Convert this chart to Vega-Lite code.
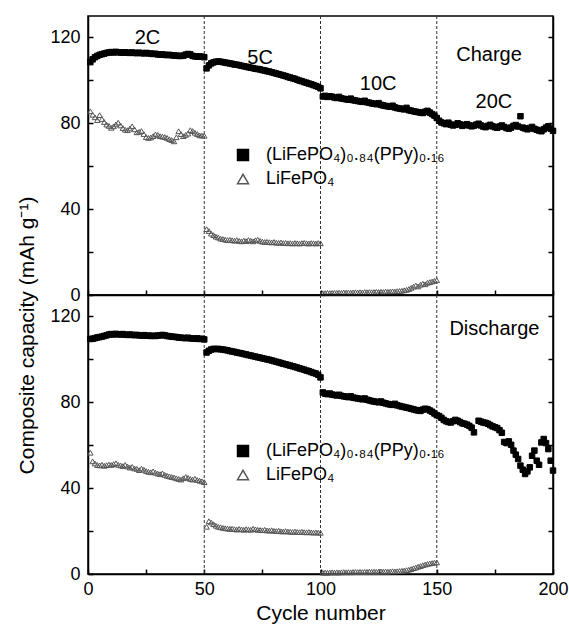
{
"$schema":"https://vega.github.io/schema/vega-lite/v6.json",
"padding":{"left":16,"top":14,"right":0,"bottom":0},
"bounds":"flush",
"spacing":0,
"config":{
 "font":"Liberation Sans",
 "view":{"stroke":"black","strokeWidth":1.5},
 "axis":{"grid":false,"labelFlush":false,"labelOverlap":false,"domainColor":"black","domainWidth":1.5,"tickColor":"black","tickWidth":1.5,"tickSize":-5,"labelColor":"black","labelFontSize":18,"labelFont":"Liberation Sans","titleColor":"black","titleFont":"Liberation Sans","titleFontSize":21,"titleFontWeight":"normal"},
 "legend":{"labelFont":"Liberation Sans","labelFontSize":18,"labelColor":"black","labelLimit":400,"symbolSize":120,"symbolStrokeWidth":1.5,"rowPadding":6,"labelOffset":14,"padding":0}
},
"datasets":{
"rates":[{"c":50},{"c":100},{"c":150}],
"topnotes":[{"label":"2C","c":25.6,"v":116.9},{"label":"5C","c":74,"v":107.6},{"label":"10C","c":124.8,"v":95.5},{"label":"20C","c":174.6,"v":87.1},{"label":"Charge","c":172.5,"v":109.2}],
"botnotes":[{"label":"Discharge","c":174.8,"v":111.5}],
"cap":[
{"c":1,"ca":108.5,"cl":85.6,"da":109.5,"dl":56.5},
{"c":2,"ca":109.8,"cl":84.0,"da":109.6,"dl":52.5},
{"c":3,"ca":110.8,"cl":82.8,"da":109.9,"dl":51.5},
{"c":4,"ca":111.4,"cl":81.5,"da":110.2,"dl":50.8},
{"c":5,"ca":111.9,"cl":83.8,"da":110.4,"dl":50.6},
{"c":6,"ca":112.2,"cl":82.0,"da":110.6,"dl":50.9},
{"c":7,"ca":112.5,"cl":80.6,"da":110.9,"dl":50.4},
{"c":8,"ca":112.8,"cl":79.4,"da":111.2,"dl":50.7},
{"c":9,"ca":113.0,"cl":78.8,"da":111.6,"dl":51.0},
{"c":10,"ca":113.2,"cl":77.9,"da":111.8,"dl":50.8},
{"c":11,"ca":113.0,"cl":78.6,"da":111.6,"dl":51.2},
{"c":12,"ca":113.3,"cl":79.5,"da":111.9,"dl":51.6},
{"c":13,"ca":113.1,"cl":80.3,"da":111.7,"dl":50.9},
{"c":14,"ca":113.0,"cl":79.0,"da":111.6,"dl":50.6},
{"c":15,"ca":112.9,"cl":77.8,"da":111.8,"dl":50.3},
{"c":16,"ca":113.1,"cl":77.0,"da":111.5,"dl":50.8},
{"c":17,"ca":112.9,"cl":76.8,"da":111.4,"dl":50.1},
{"c":18,"ca":112.8,"cl":77.6,"da":111.6,"dl":49.6},
{"c":19,"ca":113.0,"cl":78.6,"da":111.4,"dl":49.9},
{"c":20,"ca":112.8,"cl":77.2,"da":111.3,"dl":49.2},
{"c":21,"ca":112.7,"cl":75.8,"da":111.4,"dl":49.0},
{"c":22,"ca":112.9,"cl":76.0,"da":111.2,"dl":48.4},
{"c":23,"ca":112.7,"cl":76.4,"da":111.1,"dl":49.1},
{"c":24,"ca":112.6,"cl":75.0,"da":111.3,"dl":48.6},
{"c":25,"ca":112.8,"cl":73.6,"da":111.0,"dl":48.0},
{"c":26,"ca":112.6,"cl":73.2,"da":111.1,"dl":47.6},
{"c":27,"ca":112.5,"cl":73.4,"da":110.9,"dl":47.4},
{"c":28,"ca":112.3,"cl":74.0,"da":111.0,"dl":47.8},
{"c":29,"ca":112.4,"cl":74.8,"da":110.9,"dl":47.2},
{"c":30,"ca":112.1,"cl":74.6,"da":111.1,"dl":46.8},
{"c":31,"ca":112.0,"cl":74.0,"da":111.2,"dl":46.5},
{"c":32,"ca":112.1,"cl":73.8,"da":111.4,"dl":46.9},
{"c":33,"ca":111.9,"cl":73.6,"da":111.2,"dl":46.2},
{"c":34,"ca":111.8,"cl":73.2,"da":110.9,"dl":45.8},
{"c":35,"ca":111.9,"cl":72.6,"da":110.8,"dl":45.5},
{"c":36,"ca":111.7,"cl":72.2,"da":110.6,"dl":45.2},
{"c":37,"ca":111.6,"cl":71.6,"da":110.5,"dl":45.0},
{"c":38,"ca":111.5,"cl":73.5,"da":110.4,"dl":44.6},
{"c":39,"ca":111.4,"cl":76.3,"da":110.2,"dl":44.3},
{"c":40,"ca":111.4,"cl":75.0,"da":110.1,"dl":44.0},
{"c":41,"ca":111.5,"cl":74.0,"da":110.0,"dl":44.6},
{"c":42,"ca":112.0,"cl":74.6,"da":109.9,"dl":45.2},
{"c":43,"ca":112.3,"cl":75.2,"da":110.1,"dl":44.8},
{"c":44,"ca":112.1,"cl":76.8,"da":109.8,"dl":44.3},
{"c":45,"ca":111.4,"cl":76.4,"da":109.7,"dl":44.0},
{"c":46,"ca":111.2,"cl":75.6,"da":109.6,"dl":44.4},
{"c":47,"ca":111.0,"cl":75.0,"da":109.8,"dl":43.8},
{"c":48,"ca":111.2,"cl":74.4,"da":109.5,"dl":43.5},
{"c":49,"ca":111.0,"cl":74.3,"da":109.6,"dl":43.2},
{"c":50,"ca":110.8,"cl":74.2,"da":109.3,"dl":42.8},
{"c":51,"ca":105.6,"cl":30.7,"da":103.2,"dl":22.0},
{"c":52,"ca":107.0,"cl":29.8,"da":104.0,"dl":24.6},
{"c":53,"ca":107.9,"cl":28.6,"da":104.6,"dl":24.0},
{"c":54,"ca":108.4,"cl":27.9,"da":104.9,"dl":23.2},
{"c":55,"ca":108.7,"cl":27.2,"da":104.8,"dl":22.5},
{"c":56,"ca":108.8,"cl":26.8,"da":104.9,"dl":22.0},
{"c":57,"ca":108.7,"cl":26.3,"da":104.7,"dl":21.8},
{"c":58,"ca":108.5,"cl":26.1,"da":104.6,"dl":21.5},
{"c":59,"ca":108.3,"cl":25.8,"da":104.4,"dl":21.3},
{"c":60,"ca":108.1,"cl":25.6,"da":104.2,"dl":21.2},
{"c":61,"ca":107.9,"cl":25.7,"da":103.9,"dl":21.0},
{"c":62,"ca":107.7,"cl":25.5,"da":103.7,"dl":21.1},
{"c":63,"ca":107.4,"cl":25.3,"da":103.5,"dl":20.9},
{"c":64,"ca":107.3,"cl":25.6,"da":103.2,"dl":20.7},
{"c":65,"ca":107.1,"cl":25.2,"da":103.0,"dl":21.0},
{"c":66,"ca":106.8,"cl":25.0,"da":102.8,"dl":20.8},
{"c":67,"ca":106.6,"cl":25.4,"da":102.5,"dl":20.6},
{"c":68,"ca":106.4,"cl":25.1,"da":102.3,"dl":20.9},
{"c":69,"ca":106.1,"cl":25.6,"da":102.0,"dl":20.7},
{"c":70,"ca":105.9,"cl":25.3,"da":101.8,"dl":20.6},
{"c":71,"ca":105.7,"cl":25.0,"da":101.5,"dl":21.1},
{"c":72,"ca":105.4,"cl":25.5,"da":101.3,"dl":20.8},
{"c":73,"ca":105.3,"cl":25.8,"da":101.0,"dl":20.6},
{"c":74,"ca":105.1,"cl":25.2,"da":100.8,"dl":20.5},
{"c":75,"ca":104.8,"cl":24.9,"da":100.5,"dl":20.4},
{"c":76,"ca":104.6,"cl":24.7,"da":100.3,"dl":20.6},
{"c":77,"ca":104.3,"cl":24.8,"da":100.0,"dl":20.3},
{"c":78,"ca":104.1,"cl":24.6,"da":99.8,"dl":20.2},
{"c":79,"ca":103.8,"cl":24.5,"da":99.5,"dl":20.4},
{"c":80,"ca":103.5,"cl":24.7,"da":99.2,"dl":20.1},
{"c":81,"ca":103.2,"cl":24.4,"da":98.9,"dl":20.0},
{"c":82,"ca":102.9,"cl":24.3,"da":98.6,"dl":20.2},
{"c":83,"ca":102.6,"cl":24.5,"da":98.3,"dl":19.9},
{"c":84,"ca":102.3,"cl":24.2,"da":98.0,"dl":19.8},
{"c":85,"ca":102.0,"cl":24.3,"da":97.7,"dl":20.0},
{"c":86,"ca":101.6,"cl":24.1,"da":97.4,"dl":19.8},
{"c":87,"ca":101.3,"cl":24.2,"da":97.1,"dl":19.7},
{"c":88,"ca":101.0,"cl":24.0,"da":96.8,"dl":19.6},
{"c":89,"ca":100.7,"cl":24.2,"da":96.5,"dl":19.8},
{"c":90,"ca":100.3,"cl":24.1,"da":96.2,"dl":19.6},
{"c":91,"ca":99.9,"cl":24.0,"da":95.8,"dl":19.5},
{"c":92,"ca":99.6,"cl":24.2,"da":95.5,"dl":19.7},
{"c":93,"ca":99.2,"cl":24.3,"da":95.2,"dl":19.5},
{"c":94,"ca":98.9,"cl":24.1,"da":94.8,"dl":19.4},
{"c":95,"ca":98.5,"cl":24.0,"da":94.5,"dl":19.6},
{"c":96,"ca":98.2,"cl":24.2,"da":94.1,"dl":19.4},
{"c":97,"ca":97.8,"cl":24.1,"da":93.7,"dl":19.3},
{"c":98,"ca":97.4,"cl":24.0,"da":93.4,"dl":19.4},
{"c":99,"ca":97.0,"cl":24.2,"da":92.8,"dl":19.3},
{"c":100,"ca":96.3,"cl":24.1,"da":91.6,"dl":19.2},
{"c":101,"ca":92.5,"cl":0.8,"da":84.6,"dl":0.6},
{"c":102,"ca":92.8,"cl":0.9,"da":84.0,"dl":0.7},
{"c":103,"ca":92.3,"cl":1.0,"da":83.8,"dl":0.6},
{"c":104,"ca":92.6,"cl":0.9,"da":84.1,"dl":0.7},
{"c":105,"ca":92.4,"cl":1.0,"da":83.6,"dl":0.8},
{"c":106,"ca":92.0,"cl":1.1,"da":83.4,"dl":0.7},
{"c":107,"ca":91.8,"cl":1.0,"da":83.2,"dl":0.8},
{"c":108,"ca":92.3,"cl":1.1,"da":83.5,"dl":0.7},
{"c":109,"ca":91.6,"cl":1.0,"da":83.0,"dl":0.8},
{"c":110,"ca":91.4,"cl":1.2,"da":82.8,"dl":0.9},
{"c":111,"ca":91.2,"cl":1.1,"da":82.6,"dl":0.8},
{"c":112,"ca":91.0,"cl":1.2,"da":82.4,"dl":0.9},
{"c":113,"ca":91.5,"cl":1.1,"da":82.8,"dl":0.8},
{"c":114,"ca":90.8,"cl":1.2,"da":82.2,"dl":0.9},
{"c":115,"ca":90.6,"cl":1.3,"da":82.0,"dl":1.0},
{"c":116,"ca":90.4,"cl":1.2,"da":81.8,"dl":0.9},
{"c":117,"ca":90.2,"cl":1.3,"da":81.6,"dl":1.0},
{"c":118,"ca":90.0,"cl":1.2,"da":81.4,"dl":0.9},
{"c":119,"ca":90.5,"cl":1.4,"da":81.8,"dl":1.0},
{"c":120,"ca":89.8,"cl":1.3,"da":81.2,"dl":1.0},
{"c":121,"ca":89.6,"cl":1.4,"da":80.9,"dl":1.1},
{"c":122,"ca":89.3,"cl":1.3,"da":80.6,"dl":1.0},
{"c":123,"ca":89.1,"cl":1.4,"da":80.4,"dl":1.1},
{"c":124,"ca":88.9,"cl":1.5,"da":80.2,"dl":1.0},
{"c":125,"ca":89.4,"cl":1.4,"da":80.0,"dl":1.1},
{"c":126,"ca":88.6,"cl":1.5,"da":80.4,"dl":1.2},
{"c":127,"ca":88.3,"cl":1.4,"da":79.8,"dl":1.1},
{"c":128,"ca":88.1,"cl":1.6,"da":79.5,"dl":1.2},
{"c":129,"ca":87.9,"cl":1.5,"da":79.2,"dl":1.1},
{"c":130,"ca":87.7,"cl":1.6,"da":79.0,"dl":1.2},
{"c":131,"ca":88.2,"cl":1.7,"da":78.8,"dl":1.3},
{"c":132,"ca":87.4,"cl":1.6,"da":79.3,"dl":1.2},
{"c":133,"ca":87.1,"cl":1.8,"da":78.6,"dl":1.3},
{"c":134,"ca":86.9,"cl":1.9,"da":78.3,"dl":1.4},
{"c":135,"ca":86.7,"cl":2.0,"da":78.0,"dl":1.5},
{"c":136,"ca":86.5,"cl":2.2,"da":77.8,"dl":1.6},
{"c":137,"ca":87.2,"cl":2.4,"da":77.5,"dl":1.8},
{"c":138,"ca":86.1,"cl":2.8,"da":77.3,"dl":2.0},
{"c":139,"ca":85.9,"cl":3.3,"da":77.0,"dl":2.3},
{"c":140,"ca":85.6,"cl":3.9,"da":76.7,"dl":2.7},
{"c":141,"ca":85.4,"cl":4.4,"da":76.4,"dl":3.0},
{"c":142,"ca":85.2,"cl":4.0,"da":76.2,"dl":3.4},
{"c":143,"ca":85.0,"cl":4.8,"da":76.0,"dl":3.7},
{"c":144,"ca":84.8,"cl":5.3,"da":76.6,"dl":4.1},
{"c":145,"ca":85.4,"cl":5.0,"da":77.0,"dl":4.4},
{"c":146,"ca":85.8,"cl":5.7,"da":76.8,"dl":4.7},
{"c":147,"ca":85.0,"cl":6.0,"da":76.2,"dl":4.9},
{"c":148,"ca":84.3,"cl":6.3,"da":75.6,"dl":5.1},
{"c":149,"ca":83.6,"cl":6.6,"da":74.8,"dl":5.3},
{"c":150,"ca":82.5,"cl":6.9,"da":74.0,"dl":5.4},
{"c":151,"ca":81.2,"da":73.6},
{"c":152,"ca":80.4,"da":72.8},
{"c":153,"ca":80.0,"da":71.8},
{"c":154,"ca":79.6,"da":71.2},
{"c":155,"ca":80.3,"da":70.8},
{"c":156,"ca":79.4,"da":70.6},
{"c":157,"ca":79.0,"da":71.2},
{"c":158,"ca":79.3,"da":71.8},
{"c":159,"ca":80.0,"da":71.4},
{"c":160,"ca":79.5,"da":70.8},
{"c":161,"ca":78.8,"da":70.2},
{"c":162,"ca":79.2,"da":70.0},
{"c":163,"ca":79.6,"da":69.6},
{"c":164,"ca":79.0,"da":69.0},
{"c":165,"ca":78.6,"da":68.2},
{"c":166,"ca":78.9,"da":66.0},
{"c":167,"ca":79.4},
{"c":168,"ca":79.8,"da":71.4},
{"c":169,"ca":79.0,"da":71.0},
{"c":170,"ca":78.5,"da":70.6},
{"c":171,"ca":78.2,"da":70.4},
{"c":172,"ca":78.8,"da":70.0},
{"c":173,"ca":79.3,"da":69.4},
{"c":174,"ca":78.6,"da":68.8},
{"c":175,"ca":78.2,"da":68.4},
{"c":176,"ca":77.9,"da":68.0},
{"c":177,"ca":78.5,"da":67.0},
{"c":178,"ca":79.0,"da":65.8},
{"c":179,"ca":78.3,"da":61.5},
{"c":180,"ca":77.8,"da":61.0},
{"c":181,"ca":77.5,"da":61.8},
{"c":182,"ca":78.0,"da":60.2},
{"c":183,"ca":78.8,"da":57.5},
{"c":184,"ca":79.2,"da":55.6},
{"c":185,"ca":78.5,"da":53.6},
{"c":186,"ca":83.3,"da":50.5},
{"c":187,"ca":78.0,"da":48.6},
{"c":188,"ca":77.6,"da":46.6},
{"c":189,"ca":77.2,"da":47.8},
{"c":190,"ca":77.8,"da":49.7},
{"c":191,"ca":78.3,"da":55.1},
{"c":192,"ca":77.4,"da":57.5},
{"c":193,"ca":77.0,"da":52.8},
{"c":194,"ca":76.6,"da":50.9},
{"c":195,"ca":76.3,"da":61.3},
{"c":196,"ca":77.2,"da":62.9},
{"c":197,"ca":78.0,"da":61.0},
{"c":198,"ca":78.6,"da":58.2},
{"c":199,"ca":77.5,"da":52.8},
{"c":200,"ca":76.5,"da":48.2}
]},
"resolve":{"scale":{"shape":"independent","fill":"independent","stroke":"independent"}},
"vconcat":[
{
 "width":465,"height":279,
 "layer":[
  {"data":{"name":"rates"},"mark":{"type":"rule","strokeDash":[3,2],"color":"#333333","strokeWidth":1},
   "encoding":{"x":{"field":"c","type":"quantitative","scale":{"domain":[0,200],"nice":false}}}},
  {"data":{"name":"cap"},"transform":[{"fold":["ca","cl"],"as":["series","v"]}],
   "mark":{"type":"point","filled":true,"size":30,"strokeWidth":1,"opacity":1},
   "encoding":{
    "x":{"field":"c","type":"quantitative","scale":{"domain":[0,200],"nice":false},"axis":{"orient":"bottom","values":[0,25,50,75,100,125,150,175,200],"labels":false,"title":null}},
    "y":{"field":"v","type":"quantitative","scale":{"domain":[0,130],"nice":false},"axis":{"orient":"left","values":[0,20,40,60,80,100,120],"labelExpr":"datum.value % 40 === 0 ? datum.label : ''","labelPadding":13,"title":"Composite capacity (mAh g⁻¹)","titleY":319,"titlePadding":12}},
    "shape":{"field":"series","type":"nominal","scale":{"domain":["ca","cl"],"range":["square","triangle-up"]},"legend":{"title":null,"orient":"none","legendX":146,"legendY":130,"labelExpr":"datum.value === 'ca' ? '(LiFePO₄)₀.₈₄(PPy)₀.₁₆' : 'LiFePO₄'"}},
    "fill":{"field":"series","type":"nominal","scale":{"domain":["ca","cl"],"range":["black","transparent"]},"legend":{"title":null,"orient":"none","legendX":146,"legendY":130,"labelExpr":"datum.value === 'ca' ? '(LiFePO₄)₀.₈₄(PPy)₀.₁₆' : 'LiFePO₄'"}},
    "stroke":{"field":"series","type":"nominal","scale":{"domain":["ca","cl"],"range":["black","#555555"]},"legend":{"title":null,"orient":"none","legendX":146,"legendY":130,"labelExpr":"datum.value === 'ca' ? '(LiFePO₄)₀.₈₄(PPy)₀.₁₆' : 'LiFePO₄'"}}
   }},
  {"data":{"name":"topnotes"},"mark":{"type":"text","fontSize":20,"align":"center","baseline":"alphabetic","color":"black","font":"Liberation Sans"},
   "encoding":{
    "x":{"field":"c","type":"quantitative","scale":{"domain":[0,200],"nice":false}},
    "y":{"field":"v","type":"quantitative","scale":{"domain":[0,130],"nice":false},"axis":{"orient":"right","values":[20,40,60,80,100,120],"labels":false,"title":null}},
    "text":{"field":"label","type":"nominal"}}}
 ]
},
{
 "width":465,"height":279,
 "layer":[
  {"data":{"name":"rates"},"mark":{"type":"rule","strokeDash":[3,2],"color":"#333333","strokeWidth":1},
   "encoding":{"x":{"field":"c","type":"quantitative","scale":{"domain":[0,200],"nice":false}}}},
  {"data":{"name":"cap"},"transform":[{"fold":["da","dl"],"as":["series","v"]}],
   "mark":{"type":"point","filled":true,"size":30,"strokeWidth":1,"opacity":1},
   "encoding":{
    "x":{"field":"c","type":"quantitative","scale":{"domain":[0,200],"nice":false},"axis":{"orient":"bottom","values":[0,25,50,75,100,125,150,175,200],"labelExpr":"datum.value % 50 === 0 ? datum.label : ''","labelPadding":11,"title":"Cycle number","titlePadding":4}},
    "y":{"field":"v","type":"quantitative","scale":{"domain":[0,130],"nice":false},"axis":{"orient":"left","values":[0,20,40,60,80,100,120],"labelExpr":"datum.value % 40 === 0 ? datum.label : ''","labelPadding":13,"title":null}},
    "shape":{"field":"series","type":"nominal","scale":{"domain":["da","dl"],"range":["square","triangle-up"]},"legend":{"title":null,"orient":"none","legendX":146,"legendY":147,"labelExpr":"datum.value === 'da' ? '(LiFePO₄)₀.₈₄(PPy)₀.₁₆' : 'LiFePO₄'"}},
    "fill":{"field":"series","type":"nominal","scale":{"domain":["da","dl"],"range":["black","transparent"]},"legend":{"title":null,"orient":"none","legendX":146,"legendY":147,"labelExpr":"datum.value === 'da' ? '(LiFePO₄)₀.₈₄(PPy)₀.₁₆' : 'LiFePO₄'"}},
    "stroke":{"field":"series","type":"nominal","scale":{"domain":["da","dl"],"range":["black","#555555"]},"legend":{"title":null,"orient":"none","legendX":146,"legendY":147,"labelExpr":"datum.value === 'da' ? '(LiFePO₄)₀.₈₄(PPy)₀.₁₆' : 'LiFePO₄'"}}
   }},
  {"data":{"name":"botnotes"},"mark":{"type":"text","fontSize":20,"align":"center","baseline":"alphabetic","color":"black","font":"Liberation Sans"},
   "encoding":{
    "x":{"field":"c","type":"quantitative","scale":{"domain":[0,200],"nice":false}},
    "y":{"field":"v","type":"quantitative","scale":{"domain":[0,130],"nice":false},"axis":{"orient":"right","values":[20,40,60,80,100,120],"labels":false,"title":null}},
    "text":{"field":"label","type":"nominal"}}}
 ]
}
]
}
